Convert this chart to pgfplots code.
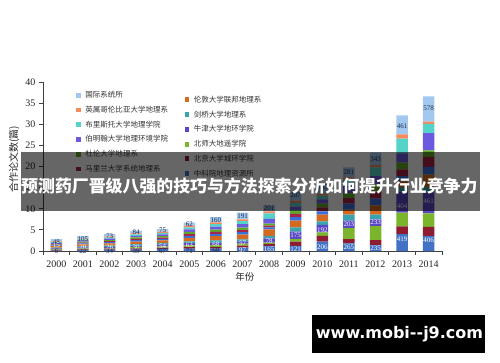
\documentclass[border=0pt]{standalone}
\usepackage{fontspec}
\setmainfont{Liberation Serif}
\newfontfamily\cjk{Noto Sans CJK SC}
\newfontfamily\wmfont{DejaVu Sans}
\usepackage{pgfplots}
\usepackage{pgfplotstable}
\pgfplotsset{compat=1.18}
\definecolor{cZKY}{HTML}{4272C4}
\definecolor{cBD}{HTML}{8E1B30}
\definecolor{cBSD}{HTML}{7AB52C}
\definecolor{cNJ}{HTML}{5A46C6}
\definecolor{cJQ}{HTML}{3AA3AD}
\definecolor{cLD}{HTML}{D4691F}
\definecolor{cH}{HTML}{3B6FD8}
\definecolor{cMLL}{HTML}{A82448}
\definecolor{cDL}{HTML}{5FA82A}
\definecolor{cBMH}{HTML}{6B5AE0}
\definecolor{cBLST}{HTML}{55D3C9}
\definecolor{cYS}{HTML}{F58A5C}
\definecolor{cGJ}{HTML}{A3C8EF}
\definecolor{labdark}{HTML}{1F2A44}
\pgfplotsset{sqleg/.style={legend image code/.code={\fill[##1,/tikz/.cd] (0pt,-2.4pt) rectangle (4.8pt,2.4pt);}}}

\pgfplotstableread{
year zky bd bsd nj jq ld h mll dl bmh blst ys gj
2000 0.10 0.15 0.15 0.20 0.20 0.35 0.20 0.15 0.15 0.25 0.20 0.15 0.55
2001 0.20 0.20 0.20 0.25 0.25 0.45 0.25 0.20 0.20 0.30 0.25 0.20 0.55
2002 0.30 0.25 0.20 0.25 0.30 0.50 0.30 0.25 0.25 0.35 0.30 0.20 0.55
2003 0.35 0.30 0.30 0.30 0.35 0.60 0.35 0.30 0.35 0.40 0.35 0.25 0.60
2004 0.50 0.30 0.30 0.45 0.35 0.60 0.35 0.30 0.35 0.45 0.35 0.30 0.60
2005 0.55 0.40 0.40 0.50 0.45 0.80 0.50 0.40 0.50 0.60 0.50 0.40 0.70
2006 0.55 0.45 0.45 0.55 0.50 1.00 0.55 0.45 0.55 0.70 0.60 0.45 1.20
2007 0.80 0.45 0.50 0.50 0.50 1.10 0.60 0.50 0.60 0.80 0.70 0.45 1.60
2008 1.20 0.50 0.30 1.00 0.60 1.50 0.50 0.40 0.50 1.10 1.30 0.50 1.40
2009 1.20 1.00 0.70 1.70 1.00 1.60 0.80 0.80 0.80 0.90 0.90 0.50 2.20
2010 2.20 1.40 0.80 1.80 0.80 1.60 0.80 0.90 0.90 1.00 0.90 0.50 2.20
2011 1.80 1.00 2.60 1.80 1.40 1.20 1.40 1.30 1.20 1.80 1.40 0.50 2.40
2012 1.40 1.20 3.30 1.60 1.10 2.20 1.60 1.80 1.60 1.90 2.10 0.50 3.00
2013 4.00 1.80 3.30 5.00 1.00 1.40 1.20 1.60 1.60 2.20 3.50 1.00 4.50
2014 3.60 2.10 3.20 5.00 1.20 3.00 1.80 2.40 1.50 4.10 2.20 0.50 6.00
}\data

\pgfplotstableread{
x y t
2000 2.2 48
2001 2.9 105
2002 3.6 73
2003 4.4 84
2004 4.8 75
2005 6.3 62
2006 7.4 160
2007 8.3 191
2008 10.2 201
2009 13.3 207
2010 15.0 245
2011 18.6 281
2012 21.7 343
2013 29.6 461
2014 33.7 578
}\toplab

\pgfplotstableread{
x y t
2000 1.3 15
2001 0.9 20
2002 0.8 26
2003 0.8 30
2004 1.2 54
2005 1.4 63
2006 1.7 68
2007 1.8 57
2008 2.3 78
2009 3.8 175
2010 5.0 192
2011 6.4 203
2012 6.7 233
2013 10.5 404
2014 11.7 461
}\midlab

\pgfplotstableread{
x y t
2000 0.0 6
2001 0.0 22
2002 0.0 34
2003 0.0 39
2004 0.0 67
2005 0.0 71
2006 0.1 68
}\botlabA

\pgfplotstableread{
x y t
2007 0.1 97
2008 0.5 165
2009 0.5 121
2010 0.9 206
2011 1.0 265
2012 0.6 235
2013 2.8 419
2014 2.6 406
}\botlabB

\begin{document}
\begin{tikzpicture}[x=1pt,y=1pt]
\path[use as bounding box, fill=white] (0,0) rectangle (500,362);

\begin{axis}[
  at={(43pt,111pt)}, anchor=south west, scale only axis,
  width=399pt, height=169pt,
  xmin=1999.5, xmax=2014.5, ymin=0, ymax=40,
  ybar stacked, bar width=11.5pt,
  axis lines=left, axis line style={-, draw=black!75, line width=0.8pt},
  xtick={2000,...,2014}, major x tick style={draw=none},
  minor xtick={1999.5,2000.5,...,2014.5},
  ytick={0,5,...,40},
  tick align=outside, major tick length=4pt, minor tick length=4pt,
  every tick/.style={draw=black!75, line width=0.8pt},
  ticklabel style={font=\rmfamily\fontsize{10}{12}\selectfont, text=black!85},
  xticklabel style={yshift=-2pt},
  /pgf/number format/assume math mode=true,
  /pgf/number format/1000 sep={},
  ylabel={\cjk 合作论文数(篇)},
  ylabel style={at={(axis description cs:-0.0727,0.544)}, anchor=center, font=\fontsize{10}{12}\selectfont, text=black!85},
  xlabel={\cjk 年份},
  xlabel style={at={(axis description cs:0.506,-0.154)}, anchor=center, font=\fontsize{9.5}{11}\selectfont, text=black!85},
  legend style={draw=none, fill=none, at={(axis description cs:0.0827,0.952)}, anchor=north west,
    font=\cjk\fontsize{7.5}{9}\selectfont, text=black!80, row sep=4.9pt, inner sep=0pt,
    nodes={inner sep=1pt}, /tikz/every odd column/.append style={column sep=3.5pt}},
  legend cell align=left,
]
\addplot[fill=cZKY, draw=none, forget plot] table[x=year, y=zky] {\data};
\addplot[fill=cBD, draw=none, forget plot] table[x=year, y=bd] {\data};
\addplot[fill=cBSD, draw=none, forget plot] table[x=year, y=bsd] {\data};
\addplot[fill=cNJ, draw=none, forget plot] table[x=year, y=nj] {\data};
\addplot[fill=cJQ, draw=none, forget plot] table[x=year, y=jq] {\data};
\addplot[fill=cLD, draw=none, forget plot] table[x=year, y=ld] {\data};
\addplot[fill=cH, draw=none, forget plot] table[x=year, y=h] {\data};
\addplot[fill=cMLL, draw=none, forget plot] table[x=year, y=mll] {\data};
\addplot[fill=cDL, draw=none, forget plot] table[x=year, y=dl] {\data};
\addplot[fill=cBMH, draw=none, forget plot] table[x=year, y=bmh] {\data};
\addplot[fill=cBLST, draw=none, forget plot] table[x=year, y=blst] {\data};
\addplot[fill=cYS, draw=none, forget plot] table[x=year, y=ys] {\data};
\addplot[fill=cGJ, draw=none, forget plot] table[x=year, y=gj] {\data};
\addlegendimage{sqleg, fill=cGJ, draw=none}\addlegendentry{国际系统所}
\addlegendimage{sqleg, fill=cYS, draw=none}\addlegendentry{英属哥伦比亚大学地理系}
\addlegendimage{sqleg, fill=cBLST, draw=none}\addlegendentry{布里斯托大学地理学院}
\addlegendimage{sqleg, fill=cBMH, draw=none}\addlegendentry{伯明翰大学地理环境学院}
\addlegendimage{sqleg, fill=cDL, draw=none}\addlegendentry{杜伦大学地理系}
\addlegendimage{sqleg, fill=cMLL, draw=none}\addlegendentry{马里兰大学系统地理系}
\end{axis}

\begin{axis}[
  at={(43pt,111pt)}, anchor=south west, scale only axis,
  width=399pt, height=169pt,
  xmin=1999.5, xmax=2014.5, ymin=0, ymax=40,
  hide axis, clip=false,
  legend style={draw=none, fill=none, at={(axis description cs:0.3546,0.925)}, anchor=north west,
    font=\cjk\fontsize{7.5}{9}\selectfont, text=black!80, row sep=4.9pt, inner sep=0pt,
    nodes={inner sep=1pt}, /tikz/every odd column/.append style={column sep=3.5pt}},
  legend cell align=left,
]
\addplot[forget plot, only marks, mark=*, mark size=0pt, mark options={draw=none, fill=none},
  point meta=explicit symbolic, nodes near coords,
  every node near coord/.append style={anchor=center, inner sep=0pt, font=\rmfamily\fontsize{7}{8}\selectfont, text=labdark}]
  table[x=x, y=y, meta=t] {\toplab};
\addplot[forget plot, only marks, mark=*, mark size=0pt, mark options={draw=none, fill=none},
  point meta=explicit symbolic, nodes near coords,
  every node near coord/.append style={anchor=center, inner sep=0pt, font=\rmfamily\fontsize{7}{8}\selectfont, text=white}]
  table[x=x, y=y, meta=t] {\midlab};
\addplot[forget plot, only marks, mark=*, mark size=0pt, mark options={draw=none, fill=none},
  point meta=explicit symbolic, nodes near coords,
  every node near coord/.append style={anchor=center, inner sep=0pt, font=\rmfamily\fontsize{7}{8}\selectfont, text=labdark}]
  table[x=x, y=y, meta=t] {\botlabA};
\addplot[forget plot, only marks, mark=*, mark size=0pt, mark options={draw=none, fill=none},
  point meta=explicit symbolic, nodes near coords,
  every node near coord/.append style={anchor=center, inner sep=0pt, font=\rmfamily\fontsize{7}{8}\selectfont, text=white}]
  table[x=x, y=y, meta=t] {\botlabB};
\addlegendimage{sqleg, fill=cLD, draw=none}\addlegendentry{伦敦大学联邦地理系}
\addlegendimage{sqleg, fill=cJQ, draw=none}\addlegendentry{剑桥大学地理系}
\addlegendimage{sqleg, fill=cNJ, draw=none}\addlegendentry{牛津大学地环学院}
\addlegendimage{sqleg, fill=cBSD, draw=none}\addlegendentry{北师大地遥学院}
\addlegendimage{sqleg, fill=cBD, draw=none}\addlegendentry{北京大学城环学院}
\addlegendimage{sqleg, fill=cZKY, draw=none}\addlegendentry{中科院地理资源所}
\end{axis}

% banner overlay
\fill[black, fill opacity=0.6] (20.5,151.5) rectangle (480,210);
\node[anchor=west, inner sep=0pt, text=white, font=\cjk\bfseries\fontsize{16.9}{18}\selectfont] at (21,176) {预测药厂晋级八强的技巧与方法探索分析如何提升行业竞争力};
% watermark
\fill[black] (312,9) rectangle (485,47);
\node[inner sep=0pt, text=white, font=\wmfont\bfseries\fontsize{16}{18}\selectfont] at (399.5,27.5) {www.mobi--j9.com};
\end{tikzpicture}
\end{document}
